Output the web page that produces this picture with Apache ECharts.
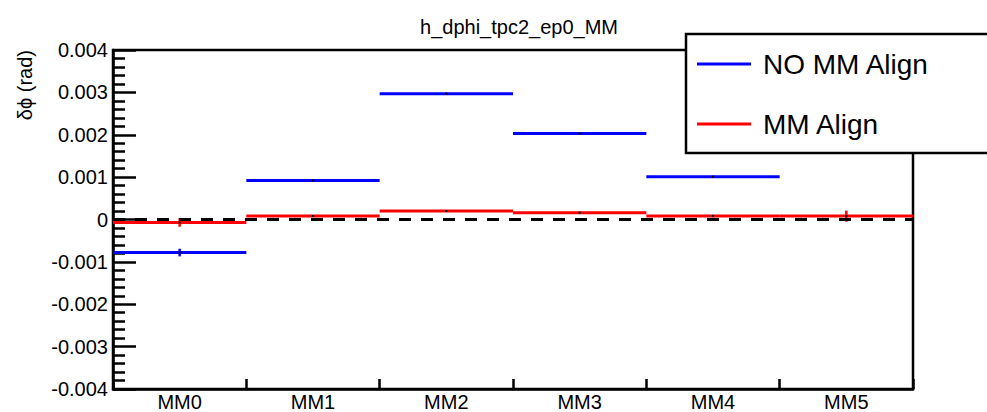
<!DOCTYPE html>
<html>
<head>
<meta charset="utf-8">
<script src="https://cdn.jsdelivr.net/npm/echarts@6/dist/echarts.min.js"></script>
<style>
  html, body { margin: 0; padding: 0; background: #fff; }
  #chart { width: 987px; height: 412px; }
</style>
</head>
<body>
<div id="chart"></div>
<script>
// ---- data ----
const chartTitle = 'h_dphi_tpc2_ep0_MM';
const yTitle = 'δϕ (rad)';
const categories = ['MM0', 'MM1', 'MM2', 'MM3', 'MM4', 'MM5'];
const seriesNames = ['NO MM Align', 'MM Align'];
const noAlignValues = [-0.00078, 0.00092, 0.00297, 0.00203, 0.00101, null];
const noAlignErrors = [0.00009, 0.00002, 0.00002, 0.00002, 0.00002, null];
const alignValues = [-0.00007, 0.00008, 0.00020, 0.00016, 0.00008, 0.00008];
const alignErrors = [0.0001, 0.00002, 0.00002, 0.00003, 0.00003, 0.00013];
const yMin = -0.004, yMax = 0.004, yStep = 0.001;

const FONT = 'Liberation Sans, Arial, Helvetica, sans-serif';

function toData(vals, errs) {
  const out = [];
  vals.forEach((v, i) => { if (v !== null) out.push([i, v, errs[i]]); });
  return out;
}

function stepRenderer(color) {
  return function (params, api) {
    const x = api.value(0), v = api.value(1), e = api.value(2);
    const c = api.coord([x, v]);
    const bw = api.size([1, 0])[0];
    const hi = api.coord([x, v + e])[1];
    const lo = api.coord([x, v - e])[1];
    return {
      type: 'group',
      children: [
        { type: 'line', shape: { x1: c[0] - bw / 2, y1: c[1], x2: c[0] + bw / 2, y2: c[1] },
          style: { stroke: color, lineWidth: 3 } },
        { type: 'line', shape: { x1: c[0], y1: hi, x2: c[0], y2: lo },
          style: { stroke: color, lineWidth: 2.5 } },
        { type: 'rect', shape: { x: c[0] - 1, y: c[1] - 1, width: 2, height: 2 },
          style: { fill: '#000' } }
      ]
    };
  };
}

const chart = echarts.init(document.getElementById('chart'), null, { renderer: 'svg' });
chart.setOption({
  animation: false,
  backgroundColor: '#fff',
  title: {
    text: chartTitle,
    left: 514, top: 12, textAlign: 'center',
    textStyle: { fontFamily: FONT, fontSize: 20, fontWeight: 'normal', color: '#000' }
  },
  grid: {
    left: 113, top: 50, right: 74, bottom: 23,
    show: true, borderColor: '#000', borderWidth: 2.5, backgroundColor: 'transparent'
  },
  legend: {
    left: 686, top: 34, orient: 'vertical',
    backgroundColor: '#fff', borderColor: '#000', borderWidth: 2.5, borderRadius: 0,
    padding: [16, 70, 15, 11],
    itemWidth: 54, itemHeight: 3, itemGap: 32,
    icon: 'rect',
    textStyle: { fontFamily: FONT, fontSize: 28, color: '#000', lineHeight: 28, padding: [0, 0, 0, 7] },
    data: seriesNames,
    z: 10
  },
  graphic: [{
    type: 'text', x: 25, y: 50, rotation: Math.PI / 2,
    style: { text: yTitle, align: 'right', verticalAlign: 'middle',
             font: '20px ' + FONT, fill: '#000' }
  }],
  xAxis: {
    type: 'category', data: categories, boundaryGap: true,
    axisLine: { onZero: false, lineStyle: { color: '#000', width: 2.5 } },
    axisTick: { show: true, interval: 0, inside: true, length: 10, lineStyle: { color: '#000', width: 2.5 } },
    axisLabel: { interval: 0, fontFamily: FONT, fontSize: 20, color: '#000', margin: 3 },
    splitLine: { show: false }
  },
  yAxis: {
    type: 'value', min: yMin, max: yMax, interval: yStep,
    axisLine: { show: true, onZero: false, lineStyle: { color: '#000', width: 2.5 } },
    axisTick: { show: true, inside: true, length: 23, lineStyle: { color: '#000', width: 2.5 } },
    minorTick: { show: true, splitNumber: 5, length: 12, lineStyle: { color: '#000', width: 2.5 } },
    axisLabel: {
      fontFamily: FONT, fontSize: 20, color: '#000', margin: 5,
      formatter: v => Math.abs(v) < 1e-9 ? '0' : v.toFixed(3)
    },
    splitLine: { show: false }
  },
  series: [
    {
      name: seriesNames[0], type: 'custom', z: 2,
      itemStyle: { color: '#0000ff' },
      renderItem: stepRenderer('#0000ff'),
      encode: { x: 0, y: 1 },
      data: toData(noAlignValues, noAlignErrors)
    },
    {
      name: seriesNames[1], type: 'custom', z: 3,
      itemStyle: { color: '#ff0000' },
      renderItem: stepRenderer('#ff0000'),
      encode: { x: 0, y: 1 },
      data: toData(alignValues, alignErrors)
    },
    {
      name: 'zero', type: 'line', data: [], z: 4, silent: true,
      markLine: {
        silent: true, symbol: 'none', label: { show: false },
        lineStyle: { color: '#000', width: 3, type: [12, 10] },
        data: [{ yAxis: 0 }]
      }
    }
  ]
});
</script>
</body>
</html>
